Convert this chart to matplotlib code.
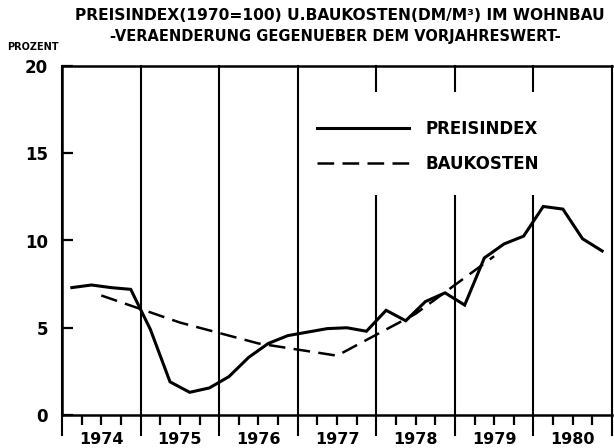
import matplotlib
matplotlib.use("Agg")
import matplotlib.pyplot as plt
from matplotlib.patches import Rectangle
import numpy as np

plt.rcParams['lines.scale_dashes'] = False

# Quarterly price index change (%), 1974Q1 .. 1980Q4
years = [1974, 1975, 1976, 1977, 1978, 1979, 1980]
preisindex = [7.3, 7.45, 7.3, 7.2,
              4.9, 1.9, 1.3, 1.55,
              2.2, 3.3, 4.1, 4.55,
              4.75, 4.95, 5.0, 4.8,
              6.0, 5.4, 6.5, 7.0,
              6.3, 9.0, 9.8, 10.25,
              11.95, 11.8, 10.1, 9.4]
# Annual construction cost change (%), plotted at mid-year
bau_years = [1974, 1975, 1976, 1977, 1978, 1979]
baukosten = [6.85, 5.3, 4.1, 3.4, 5.8, 9.1]

title1 = "PREISINDEX(1970=100) U.BAUKOSTEN(DM/M³) IM WOHNBAU"
title2 = "-VERAENDERUNG GEGENUEBER DEM VORJAHRESWERT-"
ylabel = "PROZENT"
legend_labels = ["PREISINDEX", "BAUKOSTEN"]
yticks = [0, 5, 10, 15, 20]

fig = plt.figure(figsize=(6.14, 4.48), dpi=100)
ax = fig.add_axes([62/614, 1-415/448, 550/614, 349/448])

xq = [y + (q + 0.5) / 4 for y in years for q in range(4)]
xb = [y + 0.5 for y in bau_years]

l1, = ax.plot(xq, preisindex, color='black', lw=2.2, solid_joinstyle='miter', zorder=5)
l2, = ax.plot(xb, baukosten, color='black', lw=1.8, dashes=(12, 6), zorder=5)

ax.set_xlim(years[0], years[-1] + 1)
ax.set_ylim(0, 20)

# year boundary lines extending below the axis
for yb in range(years[0], years[-1] + 2):
    ax.axvline(yb, ymin=-20/349, ymax=1, color='black', lw=1.5, clip_on=False,
               zorder=4 if yb == years[-1] + 1 else 2)

# legend background covering grid lines
ax.add_patch(Rectangle(((300-62)/550, (415-195)/349), 1-(300-62)/550, (195-92)/349,
                       transform=ax.transAxes, facecolor='white', edgecolor='none', zorder=3))
leg = ax.legend([l1, l2], legend_labels, loc='upper left',
                bbox_to_anchor=((316-62)/550 - 0.025, (415-105)/349),
                frameon=False, handlelength=5.5, handletextpad=1.0, labelspacing=1.0,
                prop={'weight': 'bold', 'size': 12})
leg.set_zorder(6)

# x ticks: labels at mid-year, quarter ticks
ax.set_xticks([y + 0.5 for y in years])
ax.set_xticklabels([str(y) for y in years], fontsize=11.5, fontweight='bold')
ax.set_xticks([y + q / 4 for y in years for q in (1, 3)], minor=True)
ax.tick_params(axis='x', which='both', direction='out', length=7, width=1.6, pad=5)

ax.set_yticks(yticks)
ax.set_yticklabels([str(v) for v in yticks], fontsize=12, fontweight='bold')
ax.tick_params(axis='y', direction='in', length=8, width=1.6, pad=10)

for s in ax.spines.values():
    s.set_linewidth(1.8)
ax.spines['right'].set_visible(False)

fig.text(340/614, 1-16/448, title1, ha='center', va='center', fontsize=11.2, fontweight='bold')
fig.text(335/614, 1-37/448, title2, ha='center', va='center', fontsize=10.5, fontweight='bold')
fig.text(7/614, 1-47/448, ylabel, ha='left', va='center', fontsize=7, fontweight='bold')

fig.savefig("out.png", dpi=100)
